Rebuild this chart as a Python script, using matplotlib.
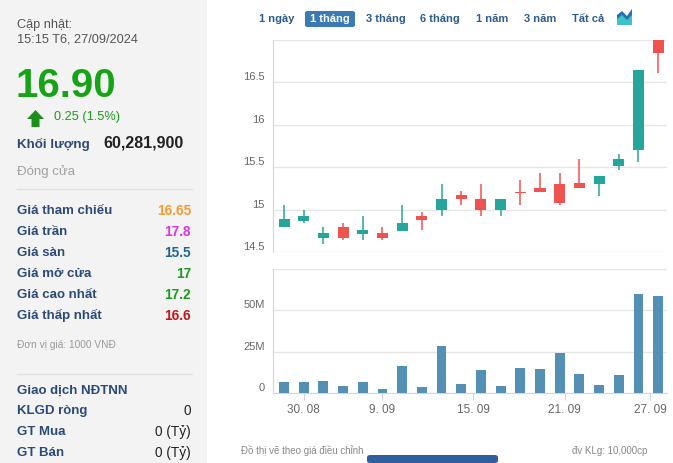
import numpy as np
import matplotlib.pyplot as plt
from matplotlib.patches import Rectangle, FancyBboxPatch, Polygon

plt.rcParams['font.family'] = ['Liberation Sans', 'DejaVu Sans']

# phien giao dich (29.08 -> 27.09)
dates = ['29.08', '30.08', '04.09', '05.09', '06.09', '09.09', '10.09', '11.09', '12.09', '13.09',
         '16.09', '17.09', '18.09', '19.09', '20.09', '23.09', '24.09', '25.09', '26.09', '27.09']
opens = [14.80, 14.87, 14.67, 14.80, 14.71, 14.72, 14.75, 14.92, 15.00, 15.17,
         15.13, 15.00, 15.21, 15.26, 15.30, 15.31, 15.30, 15.51, 15.70, 17.00]
highs = [15.05, 15.00, 14.80, 14.84, 14.92, 14.80, 15.05, 14.97, 15.30, 15.22,
         15.30, 15.13, 15.35, 15.43, 15.43, 15.60, 15.40, 15.66, 16.65, 17.20]
lows = [14.80, 14.84, 14.59, 14.64, 14.64, 14.64, 14.75, 14.76, 14.92, 15.05,
        14.92, 14.92, 15.05, 15.21, 15.05, 15.25, 15.16, 15.47, 15.56, 16.61]
closes = [14.89, 14.92, 14.72, 14.67, 14.76, 14.67, 14.84, 14.88, 15.13, 15.13,
          15.00, 15.13, 15.20, 15.21, 15.08, 15.25, 15.40, 15.60, 16.65, 16.85]
volumes = [6.8, 6.8, 7.4, 4.4, 6.8, 2.6, 16.4, 3.8, 28.4, 5.6,
           14.0, 4.4, 15.2, 14.6, 24.2, 11.6, 5.0, 11.0, 60.2, 59.0]  # trieu cp

tick_pos = [1, 5, 9.6, 14.25, 18.6]
tick_labels = ['30. 08', '9. 09', '15. 09', '21. 09', '27. 09']

price_ticks = [14.5, 15, 15.5, 16, 16.5]
price_labels = ['14.5', '15', '15.5', '16', '16.5']
vol_ticks = [0, 25, 50]
vol_labels = ['0', '25M', '50M']

info_rows = [('Giá tham chiếu', '16.65', '#f39c32'),
             ('Giá trần', '17.8', '#e033e0'),
             ('Giá sàn', '15.5', '#1d6796'),
             ('Giá mở cửa', '17', '#1f9a1f'),
             ('Giá cao nhất', '17.2', '#1f9a1f'),
             ('Giá thấp nhất', '16.6', '#c4161c')]
foreign_rows = [('KLGD ròng', '0'), ('GT Mua', '0 (Tỷ)'), ('GT Bán', '0 (Tỷ)')]
ranges = ['1 ngày', '1 tháng', '3 tháng', '6 tháng', '1 năm', '3 năm', 'Tất cả']
range_x = [277, 330, 386, 440, 492, 540, 588]

UP = '#26a69a'
DOWN = '#ef5350'
VOLC = '#5490b3'
GRID = '#e6e6e6'
AXIS = '#ccd6eb'
LBL = '#666666'
NAVY = '#2b4a78'

W, H = 673, 463
fig = plt.figure(figsize=(W / 100, H / 100), dpi=100)


def px(x, y):
    return x / W, 1 - y / H


def txt(x, y, s, **kw):
    fx, fy = px(x, y)
    fig.text(fx, fy, s, va='center', **kw)


# khung thong tin ben trai
fig.patches.append(Rectangle((0, 0), 207 / W, 1, transform=fig.transFigure,
                             facecolor='#f3f3f3', edgecolor='none', zorder=0))
txt(17, 25, 'Cập nhật:', fontsize=9.2, color='#555555')
txt(17, 40, '15:15 T6, 27/09/2024', fontsize=9.2, color='#555555')
txt(15, 86, '16.90', fontsize=29, color='#17a317', fontweight='bold')
arrow = [(27, 119), (35.5, 110), (44, 119), (39.5, 119), (39.5, 127), (31.5, 127), (31.5, 119)]
fig.patches.append(Polygon([px(a, b) for a, b in arrow], closed=True, transform=fig.transFigure,
                           facecolor='#1b8f1b', edgecolor='none'))
txt(54, 117, '0.25 (1.5%)', fontsize=9.2, color='#1f9a1f')
txt(17, 144, 'Khối lượng', fontsize=9.6, color=NAVY, fontweight='bold')
txt(103, 143, '60,281,900', fontsize=11.5, color='#222222', fontweight='bold')
txt(17, 172, 'Đóng cửa', fontsize=9.5, color='#a0a0a0')
for yy in [189, 374]:
    fig.lines.append(plt.Line2D([17 / W, 192 / W], [1 - yy / H] * 2, transform=fig.transFigure,
                                color='#e2e2e2', lw=1))
for i, (name, val, col) in enumerate(info_rows):
    y = 211 + i * 20.9
    txt(17, y, name, fontsize=9.5, color=NAVY, fontweight='bold')
    txt(191, y, val, fontsize=9.8, color=col, fontweight='bold', ha='right')
txt(17, 345, 'Đơn vị giá: 1000 VNĐ', fontsize=7.3, color='#999999')
txt(17, 391, 'Giao dịch NĐTNN', fontsize=9.5, color=NAVY, fontweight='bold')
for i, (name, val) in enumerate(foreign_rows):
    y = 411 + i * 21
    txt(17, y, name, fontsize=9.5, color=NAVY, fontweight='bold')
    txt(191, y, val, fontsize=9.8, color='#222222', ha='right')

# nut chon khoang thoi gian
for lab, x in zip(ranges, range_x):
    if lab == '1 tháng':
        fig.patches.append(FancyBboxPatch(px(305, 27), 50 / W, 16 / H, boxstyle='round,pad=0,rounding_size=0.004',
                                          transform=fig.transFigure, facecolor='#3a7bb5', edgecolor='none'))
        txt(x, 19, lab, fontsize=8, color='white', fontweight='bold', ha='center')
    else:
        txt(x, 19, lab, fontsize=8, color='#2c5d8f', fontweight='bold', ha='center')
icon = [(617, 25), (617, 15), (622, 11), (627, 16), (632, 9), (632, 25)]
fig.patches.append(Polygon([px(a, b) for a, b in icon], closed=True, transform=fig.transFigure,
                           facecolor='#2a6fb0', edgecolor='none'))
icon2 = [(617, 25), (617, 19), (622, 15), (627, 20), (632, 15), (632, 25)]
fig.patches.append(Polygon([px(a, b) for a, b in icon2], closed=True, transform=fig.transFigure,
                           facecolor='#3cc4c4', edgecolor='none'))

x = np.arange(len(dates))
o = np.array(opens)
c = np.array(closes)
colors = [UP if cc >= oo else DOWN for oo, cc in zip(o, c)]

# bieu do gia
ax = fig.add_axes([273 / W, 1 - 252 / H, 394 / W, 212 / H])
ax.vlines(x, lows, highs, colors=colors, lw=1.1, zorder=2)
ax.bar(x, np.maximum(np.abs(c - o), 0.006), bottom=np.minimum(o, c), width=0.56,
       color=colors, zorder=3)
ax.set_xlim(-0.56, len(dates) - 0.55)
ax.set_ylim(14.5, 17)
ax.set_yticks(price_ticks)
ax.set_yticklabels(price_labels)
ax.set_xticks([])
ax.grid(axis='y', color=GRID, lw=1)
ax.axhline(17, color=GRID, lw=1)
ax.set_axisbelow(True)
for s in ['top', 'right', 'bottom']:
    ax.spines[s].set_visible(False)
ax.spines['left'].set_color(AXIS)
ax.tick_params(axis='y', length=0, pad=6, labelsize=8, labelcolor=LBL)
for t in ax.get_yticklabels():
    t.set_verticalalignment('bottom')

# bieu do khoi luong
axv = fig.add_axes([273 / W, 1 - 393.3 / H, 394 / W, 124.3 / H])
axv.bar(x, volumes, width=0.5, color=VOLC, zorder=3)
axv.set_xlim(-0.56, len(dates) - 0.55)
axv.set_ylim(0, 75)
axv.set_yticks(vol_ticks)
axv.set_yticklabels(vol_labels)
axv.set_xticks(tick_pos)
axv.set_xticklabels(tick_labels)
axv.grid(axis='y', color=GRID, lw=1)
axv.axhline(75, color=GRID, lw=1)
axv.set_axisbelow(True)
for s in ['top', 'right']:
    axv.spines[s].set_visible(False)
axv.spines['left'].set_color(AXIS)
axv.spines['bottom'].set_color(AXIS)
axv.tick_params(axis='y', length=0, pad=6, labelsize=8, labelcolor=LBL)
axv.tick_params(axis='x', length=5, color=AXIS, pad=3, labelsize=8.5, labelcolor=LBL)
for t in axv.get_yticklabels():
    t.set_verticalalignment('bottom')

txt(241, 451, 'Đồ thị vẽ theo giá điều chỉnh', fontsize=7, color='#888888')
txt(647, 451, 'đv KLg: 10,000cp', fontsize=7, color='#888888', ha='right')
fig.patches.append(FancyBboxPatch(px(367, 463), 131 / W, 8 / H, boxstyle='round,pad=0,rounding_size=0.005',
                                  transform=fig.transFigure, facecolor='#2f5f9e', edgecolor='none'))

fig.savefig('out.png', dpi=100)
